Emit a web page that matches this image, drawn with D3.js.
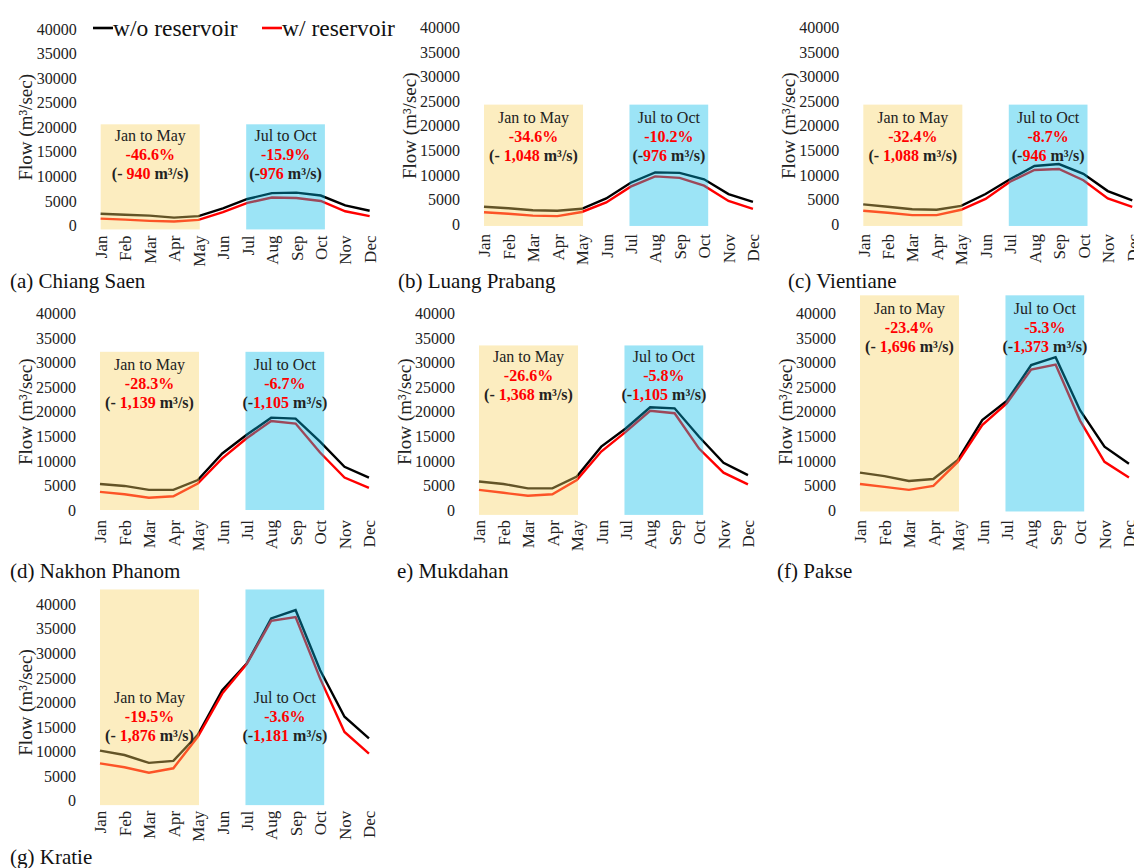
<!DOCTYPE html>
<html>
<head>
<meta charset="utf-8">
<script src="https://cdn.jsdelivr.net/npm/d3@7"></script>
<style>
  html, body { margin: 0; padding: 0; background: #fff; }
  svg { display: block; font-family: "Liberation Serif", "Times New Roman", serif; }
</style>
</head>
<body>
<svg id="chart" width="1134" height="868"></svg>
<script>
// Monthly mean flow (m3/s) at Mekong mainstream stations, without / with reservoirs
const months = ["Jan", "Feb", "Mar", "Apr", "May", "Jun", "Jul", "Aug", "Sep", "Oct", "Nov", "Dec"];
const stations = ["(a) Chiang Saen", "(b) Luang Prabang", "(c) Vientiane", "(d) Nakhon Phanom", "e) Mukdahan", "(f) Pakse", "(g) Kratie"];
const yTicks = [0, 5000, 10000, 15000, 20000, 25000, 30000, 35000, 40000];

const flowWithout = [
  [2400, 2200, 2000, 1600, 1900, 3500, 5400, 6600, 6700, 6100, 4100, 3000],
  [3500, 3200, 2800, 2700, 3100, 5200, 8400, 10500, 10400, 9100, 6100, 4500],
  [4000, 3500, 3000, 2900, 3700, 6100, 9100, 11800, 12200, 10200, 6700, 4800],
  [5300, 4900, 4100, 4100, 6100, 11500, 15300, 18800, 18600, 13900, 8800, 6600],
  [5800, 5300, 4400, 4400, 6800, 12900, 16600, 20900, 20700, 14900, 9600, 7100],
  [7600, 6900, 5900, 6300, 10200, 18300, 22200, 29500, 31100, 20300, 12900, 9400],
  [10200, 9300, 7700, 8100, 13400, 22500, 27900, 37100, 38800, 26600, 17100, 12700]
];
const flowWith = [
  [1400, 1200, 950, 800, 1150, 2700, 4600, 5700, 5600, 5000, 2900, 1900],
  [2400, 2100, 1700, 1600, 2450, 4400, 7600, 9700, 9400, 7800, 4700, 3100],
  [2700, 2300, 1800, 1800, 2900, 5100, 8600, 11000, 11200, 8900, 5200, 3500],
  [3700, 3200, 2500, 2800, 5400, 10500, 14600, 18100, 17600, 11700, 6600, 4500],
  [4100, 3500, 2900, 3200, 6100, 11900, 15900, 20200, 19700, 12500, 7600, 5200],
  [5300, 4700, 4100, 4900, 9800, 17300, 21700, 28600, 29600, 18200, 9800, 6600],
  [7600, 6800, 5700, 6600, 13000, 21800, 27800, 36600, 37400, 24900, 14000, 9600]
];

// Seasonal change summaries
const dryPct  = ["-46.6%", "-34.6%", "-32.4%", "-28.3%", "-26.6%", "-23.4%", "-19.5%"];
const dryDiff = ["940", "1,048", "1,088", "1,139", "1,368", "1,696", "1,876"];
const wetPct  = ["-15.9%", "-10.2%", "-8.7%", "-6.7%", "-5.8%", "-5.3%", "-3.6%"];
const wetDiff = ["976", "976", "946", "1,105", "1,105", "1,373", "1,181"];

// Season band extents and label levels, in flow units
const bandTop    = [20600, 24300, 24300, 32200, 33500, 43700, 43000];
const bandBottom = [-800, -400, -400, 0, -1000, -300, -900];
const labelLevel = [18300, 21800, 21800, 29700, 31200, 41000, 21100];

// Panel placement
const janX    = [100.7, 484, 863.3, 100, 479, 860, 100];
const zeroY   = [225.5, 224, 224, 510, 510, 510, 800.7];
const captionX = [10, 398, 788, 10, 397, 777, 10];
const captionY = [288, 288, 288, 578, 578, 578, 864];
const step = 24.45, plotH = 196.5;

const svg = d3.select("#chart");

stations.forEach((name, i) => {
  const x = d3.scalePoint().domain(months).range([janX[i], janX[i] + step * 11]);
  const y = d3.scaleLinear().domain([0, 40000]).range([zeroY[i], zeroY[i] - plotH]);
  const g = svg.append("g");

  // y tick labels (no axis line / tick marks)
  const yAxis = d3.axisLeft(y).tickValues(yTicks).tickSize(0).tickPadding(0).tickFormat(d3.format("d"));
  const ya = g.append("g").attr("transform", `translate(${janX[i] - 24},0)`).call(yAxis);
  ya.attr("font-family", null);
  ya.select(".domain").remove();
  ya.selectAll("text").attr("font-size", 16).attr("fill", "#222");

  // month labels, rotated
  const xAxis = d3.axisBottom(x).tickSize(0).tickPadding(0);
  const xa = g.append("g").attr("transform", `translate(0,${zeroY[i] + 10})`).call(xAxis);
  xa.attr("font-family", null);
  xa.select(".domain").remove();
  xa.selectAll("text")
    .attr("font-size", 17).attr("fill", "#222")
    .attr("transform", "rotate(-90)")
    .attr("text-anchor", "end").attr("x", 0).attr("y", 0).attr("dy", "0.34em");

  // y-axis title
  g.append("text")
    .attr("transform", `translate(${janX[i] - 75},${y(20000)}) rotate(-90)`)
    .attr("text-anchor", "middle").attr("dy", "0.35em")
    .attr("font-size", 19).attr("fill", "#222")
    .text("Flow (m³/sec)");

  // flow lines
  const line = d3.line().x((d, k) => x(months[k])).y(d => y(d));
  g.append("path").datum(flowWithout[i]).attr("d", line)
    .attr("fill", "none").attr("stroke", "#000").attr("stroke-width", 2.4);
  g.append("path").datum(flowWith[i]).attr("d", line)
    .attr("fill", "none").attr("stroke", "#ff0000").attr("stroke-width", 2.4);

  // season bands laid over the lines
  const dryX0 = x("Jan"), dryX1 = x("May") + step * 0.05;
  const wetX0 = x("Jul") - step * 0.05, wetX1 = x("Oct") + step * 0.17;
  const bTop = y(bandTop[i]), bBot = y(bandBottom[i]);
  g.append("rect").attr("x", dryX0).attr("y", bTop).attr("width", dryX1 - dryX0).attr("height", bBot - bTop)
    .attr("fill", "rgb(247,210,98)").attr("fill-opacity", 0.4);
  g.append("rect").attr("x", wetX0).attr("y", bTop).attr("width", wetX1 - wetX0).attr("height", bBot - bTop)
    .attr("fill", "rgb(0,186,232)").attr("fill-opacity", 0.39);

  // band annotations
  const addNote = (cx, title, pct, diff, dash) => {
    const ly = y(labelLevel[i]);
    g.append("text").attr("x", cx).attr("y", ly).attr("dy", "0.35em").attr("text-anchor", "middle")
      .attr("font-size", 16).attr("fill", "#222").text(title);
    g.append("text").attr("x", cx).attr("y", ly + 19).attr("dy", "0.35em").attr("text-anchor", "middle")
      .attr("font-size", 16).attr("font-weight", "bold").attr("fill", "#ff0000").text(pct);
    const v = g.append("text").attr("x", cx).attr("y", ly + 38).attr("dy", "0.35em").attr("text-anchor", "middle")
      .attr("font-size", 16).attr("font-weight", "bold").attr("fill", "#222");
    v.append("tspan").text(dash);
    v.append("tspan").attr("fill", "#ff0000").text(diff);
    v.append("tspan").text(" m³/s)");
  };
  addNote((dryX0 + dryX1) / 2, "Jan to May", dryPct[i], dryDiff[i], "(- ");
  addNote((wetX0 + wetX1) / 2, "Jul to Oct", wetPct[i], wetDiff[i], "(-");

  // panel caption
  g.append("text").attr("x", captionX[i]).attr("y", captionY[i])
    .attr("font-size", 21).attr("fill", "#111").text(name);
});

// legend
const legend = [
  { label: "w/o reservoir", color: "#000", x: 93 },
  { label: "w/ reservoir", color: "#ff0000", x: 262 }
];
const lg = svg.append("g");
legend.forEach(d => {
  lg.append("line").attr("x1", d.x).attr("x2", d.x + 20).attr("y1", 28).attr("y2", 28)
    .attr("stroke", d.color).attr("stroke-width", 2.6);
  lg.append("text").attr("x", d.x + 20).attr("y", 28).attr("dy", "0.32em")
    .attr("font-size", 23.5).attr("fill", "#111").text(d.label);
});
</script>
</body>
</html>
